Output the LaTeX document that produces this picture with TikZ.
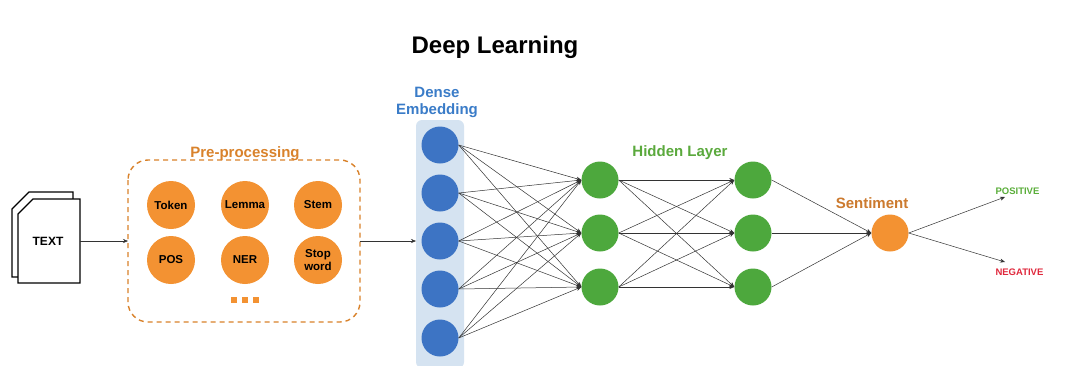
\documentclass[tikz,border=0pt]{standalone}
\usepackage{fontspec}
\setmainfont{Liberation Sans}
\usetikzlibrary{arrows.meta}
\definecolor{prefill}{HTML}{F39232}
\definecolor{prelabel}{HTML}{D9822B}
\definecolor{embfill}{HTML}{3D74C4}
\definecolor{emblabel}{HTML}{3A7CC8}
\definecolor{embbg}{HTML}{D5E3F1}
\definecolor{hidfill}{HTML}{4DA83D}
\definecolor{hidlabel}{HTML}{5AA93C}
\definecolor{sentlabel}{HTML}{CC7A2E}
\definecolor{poscol}{HTML}{5AAE3A}
\definecolor{negcol}{HTML}{E0283C}
\definecolor{wire}{HTML}{333333}
\tikzset{
  prenode/.style={circle,fill=prefill,minimum size=48pt,inner sep=0pt,align=center,
    font=\fontsize{11.5}{12.5}\selectfont\bfseries},
  embnode/.style={circle,fill=embfill,minimum size=37pt,inner sep=0pt},
  hidnode/.style={circle,fill=hidfill,minimum size=37pt,inner sep=0pt},
  outnode/.style={circle,fill=prefill,minimum size=37pt,inner sep=0pt},
  lbl/.style={font=\fontsize{15}{17}\selectfont\bfseries,align=center},
  outlbl/.style={font=\fontsize{9.5}{10}\selectfont\bfseries,anchor=west},
  link/.style={draw=wire,line width=0.5pt,-{Stealth[length=5pt,width=4pt]}},
  page/.style={draw=black,line width=1.3pt,fill=white},
}
\begin{document}
\begin{tikzpicture}[x=1pt,y=-1pt]
\useasboundingbox (0,0) rectangle (1089,365);
\fill[white] (0,0) rectangle (1089,365);

% title
\node[font=\fontsize{24}{28}\selectfont\bfseries] (title) at (495,47) {Deep Learning};

% input document (two stacked pages)
\draw[page] (12,209) -- (29,192) -- (73,192) -- (73,277) -- (12,277) -- cycle;
\draw[page] (18,214) -- (33,199) -- (80,199) -- (80,283) -- (18,283) -- cycle;
\node[font=\fontsize{12}{14}\selectfont\bfseries] (text) at (48,241) {TEXT};
\coordinate (docR) at (80,241);

% pre-processing group
\draw[prelabel,line width=1.4pt,dash pattern=on 5pt off 4pt,rounded corners=20pt]
  (128,160) rectangle (360,322);
\coordinate (preL) at (128,241);
\coordinate (preR) at (360,241);
\node[lbl,text=prelabel] (prelbl) at (245,154) {Pre-processing};
\node[prenode] (token) at (171,205) {Token};
\node[prenode] (lemma) at (245,205) {Lemma};
\node[prenode] (stem)  at (318,205) {Stem};
\node[prenode] (pos)   at (171,260) {POS};
\node[prenode] (ner)   at (245,260) {NER};
\node[prenode] (stop)  at (318,260) {Stop\\word};
\foreach \dx in {-11,0,11}
  \fill[prefill] (245+\dx-2.6,300-2.6) rectangle (245+\dx+2.6,300+2.6);

\draw[link] (docR) -- (preL);

% dense embedding layer
\fill[embbg,rounded corners=6pt] (416,120) rectangle (464,368);
\node[lbl,text=emblabel] (emblbl) at (437,102) {Dense\\Embedding};
\foreach \i/\y in {1/145,2/193,3/241,4/289,5/338}
  \node[embnode] (e\i) at (440,\y) {};
\coordinate (embL) at (416,241);
\draw[link] (preR) -- (embL);

% hidden layers
\node[lbl,text=hidlabel] (hidlbl) at (680,153) {Hidden Layer};
\foreach \i/\y in {1/180,2/233,3/287}{
  \node[hidnode] (a\i) at (600,\y) {};
  \node[hidnode] (b\i) at (753,\y) {};
}

% sentiment output
\node[outnode] (sent) at (890,233) {};
\node[lbl,text=sentlabel] (sentlbl) at (872,203) {Sentiment};

% connections
\foreach \i in {1,...,5}
  \foreach \j in {1,2,3}
    \draw[link] (e\i.east) -- (a\j.west);
\foreach \i in {1,2,3}
  \foreach \j in {1,2,3}
    \draw[link] (a\i.east) -- (b\j.west);
\foreach \i in {1,2,3}
  \draw[link] (b\i.east) -- (sent.west);

% outputs
\node[outlbl,text=poscol] (positive) at (992,191) {POSITIVE};
\node[outlbl,text=negcol] (negative) at (992,272) {NEGATIVE};
\coordinate (posTip) at (1005,197);
\coordinate (negTip) at (1005,262);
\draw[link] (sent.east) -- (posTip);
\draw[link] (sent.east) -- (negTip);
\end{tikzpicture}
\end{document}
